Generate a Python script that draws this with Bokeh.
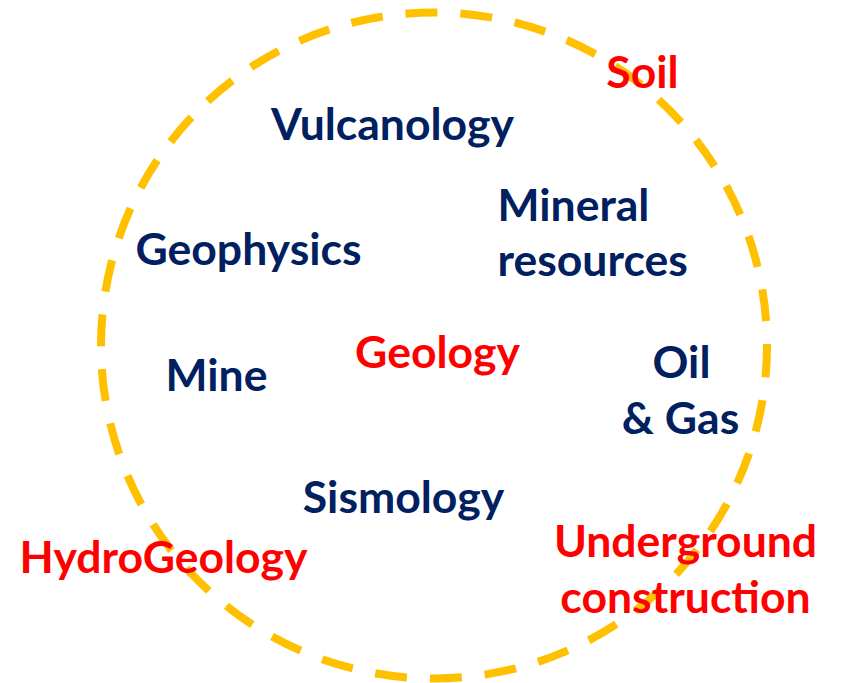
from bokeh.plotting import figure
from bokeh.models import ColumnDataSource, Range1d
from bokeh.core.properties import value
from bokeh.embed import file_html
from bokeh.resources import INLINE

# Labels (one entry per text line), grouped into "core" (navy) and "related" (red)
labels = ["Soil", "Vulcanology", "Mineral", "resources", "Geophysics", "Geology",
          "Mine", "Oil", "& Gas", "Sismology", "HydroGeology", "Underground", "construction"]
groups = ["related", "core", "core", "core", "core", "related",
          "core", "core", "core", "core", "related", "related", "related"]
# label anchor positions in page-pixel space (x, y measured from the top)
label_x = [642, 392, 497, 497, 248, 437, 216, 681, 680, 403, 163, 685, 685]
label_y = [70, 122, 203, 258, 247, 350, 373, 360, 416, 495, 555, 539, 595]
align = ["center", "center", "left", "left", "center", "center",
         "center", "center", "center", "center", "center", "center", "center"]

colors = {"core": "#002060", "related": "#FF0000"}

W, H = 843, 683

src = ColumnDataSource(dict(
    text=labels,
    x=label_x,
    y=[H - v for v in label_y],
    color=[colors[g] for g in groups],
    align=align,
))

p = figure(width=W, height=H, output_backend="svg", toolbar_location=None,
           x_range=Range1d(0, W), y_range=Range1d(0, H),
           min_border=0, outline_line_color=None, background_fill_color="white",
           border_fill_color="white")
p.axis.visible = False
p.grid.visible = False

# Dashed circle boundary (page-pixel centre / radius)
cx, cy, r = 433.5, 345.0, 333.0
p.ellipse(x=[cx], y=[H - cy], width=[2 * r], height=[2 * r],
          fill_color=None, line_color="#FFC000", line_width=8, line_dash="32 23")

p.text(x="x", y="y", text="text", source=src, text_color="color",
       text_align="align", text_baseline="alphabetic",
       text_font=value("Lato"), text_font_style="bold", text_font_size="44.5px")

open("out.html", "w").write(file_html(p, INLINE))
